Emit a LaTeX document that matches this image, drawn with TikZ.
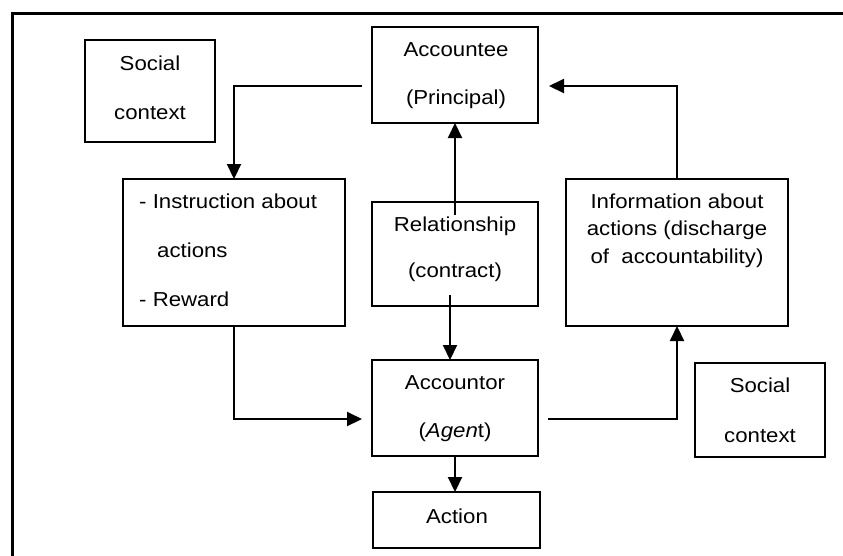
\documentclass[tikz,border=0pt]{standalone}
\usepackage{fontspec}
\setmainfont{Liberation Sans}[FakeStretch=1.1]
\usetikzlibrary{arrows.meta}
\tikzset{
  box/.style={draw, line width=2pt, inner sep=0pt, outer sep=0pt},
  txt/.style={anchor=base, inner sep=0pt, font=\fontsize{20.2}{24}\selectfont},
  txtl/.style={txt, anchor=base west},
  conn/.style={line width=2.1pt},
  arr/.style={conn, -{Triangle[length=15pt,width=14pt]}},
}
\begin{document}
\begin{tikzpicture}[x=1pt,y=-1pt]
\useasboundingbox (0,0) rectangle (843,555);
% outer frame (right and bottom sides lie outside the picture)
\draw[line width=3pt] (12,560) -- (12,13) -- (850,13);

% boxes
\node[box, minimum width=130pt, minimum height=102pt] (soc1) at (150,91) {};
\node[box, minimum width=166pt, minimum height=96pt] (acctee) at (455,75) {};
\node[box, minimum width=222pt, minimum height=147pt] (instr) at (234,252.5) {};
\node[box, minimum width=166pt, minimum height=104pt] (rel) at (455,254) {};
\node[box, minimum width=222pt, minimum height=147pt] (info) at (677,252.5) {};
\node[box, minimum width=166pt, minimum height=96pt] (acctor) at (455,408) {};
\node[box, minimum width=130pt, minimum height=94pt] (soc2) at (760,410) {};
\node[box, minimum width=167pt, minimum height=56pt] (action) at (456.5,520) {};

% texts
\node[txt] (soc1a) at (150,70) {Social};
\node[txt] (soc1b) at (150,119) {context};
\node[txt] (acctee1) at (456,56) {Accountee};
\node[txt] (acctee2) at (456,104) {(Principal)};
\node[txtl] (instr1) at (139,208) {- Instruction about};
\node[txtl] (instr2) at (157,257) {actions};
\node[txtl] (instr3) at (139,306) {- Reward};
\node[txt] (rel1) at (455,231) {Relationship};
\node[txt] (rel2) at (455,277) {(contract)};
\node[txt] (info1) at (677,208) {Information about};
\node[txt] (info2) at (677,235) {actions (discharge};
\node[txt] (info3) at (677,263) {of\ \ accountability)};
\node[txt] (acctor1) at (455,389) {Accountor};
\node[txt] (acctor2) at (455,437) {(\textit{Agen}t)};
\node[txt] (soc2a) at (760,392) {Social};
\node[txt] (soc2b) at (760,442) {context};
\node[txt] (action1) at (457,523) {Action};

% connectors
\coordinate (c1) at (362,86);
\draw[arr] (c1) -| (instr.north);
\coordinate (c2) at (455,215);
\draw[arr] (c2) -- (acctee.south);
\coordinate (c3) at (450,295);
\draw[arr] (c3) -- (c3 |- acctor.north);
\coordinate (c4) at (362,419);
\draw[arr] (instr.south) |- (c4);
\coordinate (c5) at (548,419);
\draw[arr] (c5) -| (info.south);
\coordinate (c6) at (549,86);
\draw[arr] (info.north) |- (c6);
\draw[arr] (acctor.south) -- (acctor.south |- action.north);
\end{tikzpicture}
\end{document}
